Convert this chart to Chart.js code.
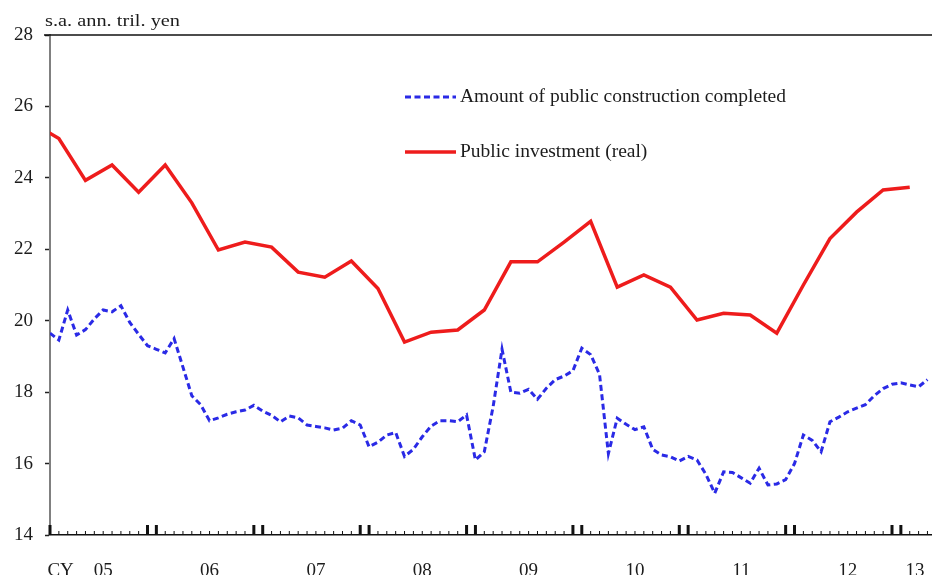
<!DOCTYPE html>
<html>
<head>
<meta charset="utf-8">
<script src="https://cdn.jsdelivr.net/npm/chart.js@4.4.1/dist/chart.umd.min.js"></script>
<style>
  html, body { margin: 0; padding: 0; background: #ffffff; }
  #wrap { width: 932px; height: 575px; }
</style>
</head>
<body>
<div id="wrap"><canvas id="c" width="932" height="575"></canvas></div>
<script>
// ---------------- data ----------------
const unitLabel = 's.a. ann. tril. yen';
const seriesNames = ['Amount of public construction completed', 'Public investment (real)'];

// monthly series, first value = Jan 2005
const monthlyStart = '2005-01';
const constructionCompleted = [
  19.65, 19.46, 20.30, 19.60, 19.75, 20.05, 20.30, 20.25, 20.42, 19.95, 19.62, 19.30,
  19.20, 19.10, 19.50, 18.70, 17.90, 17.65, 17.20, 17.28, 17.38, 17.45, 17.50, 17.63,
  17.47, 17.35, 17.17, 17.33, 17.28, 17.08, 17.04, 17.00, 16.94, 16.99, 17.20, 17.08,
  16.47, 16.60, 16.80, 16.87, 16.20, 16.40, 16.75, 17.05, 17.20, 17.20, 17.17, 17.36,
  16.10, 16.33, 17.60, 19.20, 18.00, 17.97, 18.08, 17.80, 18.11, 18.35, 18.45, 18.60,
  19.23, 19.05, 18.50, 16.28, 17.27, 17.10, 16.95, 17.03, 16.40, 16.24, 16.19, 16.07,
  16.20, 16.10, 15.70, 15.17, 15.77, 15.75, 15.60, 15.45, 15.87, 15.40, 15.43, 15.55,
  16.00, 16.80, 16.65, 16.33, 17.17, 17.30, 17.45, 17.55, 17.65, 17.90, 18.10, 18.22,
  18.26, 18.20, 18.15, 18.35
];

// quarterly series, first value = 2004 Q4 (plotted at the middle month of each quarter)
const quarterlyStart = '2004Q4';
const publicInvestment = [
  25.55,
  25.10, 23.93, 24.36, 23.60,
  24.36, 23.30, 21.98, 22.20,
  22.06, 21.36, 21.22, 21.67,
  20.90, 19.40, 19.68, 19.74,
  20.30, 21.65, 21.65, 22.20,
  22.78, 20.94, 21.28, 20.94,
  20.02, 20.21, 20.16, 19.65,
  21.00, 22.30, 23.04, 23.66,
  23.74
];

const xTickLabels = ['CY', '05', '06', '07', '08', '09', '10', '11', '12', '13'];
const yTicks = [14, 16, 18, 20, 22, 24, 26, 28];

// ---------------- helpers ----------------
function monthIndex(ym) {           // months since Jan 2005
  const [y, m] = ym.split('-').map(Number);
  return (y - 2005) * 12 + (m - 1);
}
function quarterMid(yq) {           // middle month of quarter, months since Jan 2005
  const y = Number(yq.slice(0, 4)), q = Number(yq.slice(5));
  return (y - 2005) * 12 + (q - 1) * 3 + 1;
}
const m0 = monthIndex(monthlyStart);
const blueData = constructionCompleted.map((v, i) => ({ x: m0 + i, y: v }));
const q0 = quarterMid(quarterlyStart);
const redData = publicInvestment.map((v, i) => ({ x: q0 + 3 * i, y: v }));
const lastMonth = m0 + constructionCompleted.length - 1;

// tick label positions (months since Jan 2005)
const labelPos = xTickLabels.map((t, i) => {
  if (i === 0) return 1.2;                    // "CY"
  if (i === xTickLabels.length - 1) return (i - 1) * 12 + 1.6; // partial last year
  return (i - 1) * 12 + 6;
});

const SERIF = '"Liberation Serif", "DejaVu Serif", serif';
const TEXT = '#1c1c1c';
const BLUE = '#2a2ae6';
const RED = '#ee1c1c';

// ---------------- plugins ----------------
const decor = {
  id: 'decor',
  afterDraw(chart) {
    const ctx = chart.ctx, a = chart.chartArea, xs = chart.scales.x;
    ctx.save();
    // top frame line
    ctx.strokeStyle = '#111';
    ctx.lineWidth = 1.5;
    ctx.beginPath();
    ctx.moveTo(44, a.top);
    ctx.lineTo(chart.width, a.top);
    ctx.stroke();
    // monthly tick marks inside the plot
    for (let m = 0; m <= lastMonth; m++) {
      const px = xs.getPixelForValue(m);
      const thick = (m % 12 === 0) || (m % 12 === 11);
      ctx.fillStyle = '#111';
      if (thick) ctx.fillRect(px - 1.5, a.bottom - 10, 3, 10);
      else ctx.fillRect(px - 0.5, a.bottom - 4, 1, 4);
    }
    // unit label
    ctx.fillStyle = TEXT;
    ctx.font = '16px ' + SERIF;
    ctx.textBaseline = 'middle';
    ctx.textAlign = 'left';
    const w = ctx.measureText(unitLabel).width;
    ctx.translate(45, 22);
    ctx.scale(135 / w, 1);
    ctx.fillText(unitLabel, 0, 0);
    ctx.restore();

    // legend
    ctx.save();
    const items = [
      { y: 97, color: BLUE, dash: [6, 3.5], width: 3, text: seriesNames[0] },
      { y: 152, color: RED, dash: [], width: 3.5, text: seriesNames[1] }
    ];
    items.forEach(it => {
      ctx.strokeStyle = it.color;
      ctx.lineWidth = it.width;
      ctx.setLineDash(it.dash);
      ctx.beginPath();
      ctx.moveTo(405, it.y);
      ctx.lineTo(456, it.y);
      ctx.stroke();
      ctx.setLineDash([]);
      ctx.fillStyle = TEXT;
      ctx.font = '19.5px ' + SERIF;
      ctx.textBaseline = 'middle';
      ctx.textAlign = 'left';
      ctx.fillText(it.text, 460, it.y);
    });
    ctx.restore();
  }
};

// ---------------- chart ----------------
new Chart(document.getElementById('c'), {
  type: 'line',
  data: {
    datasets: [
      {
        label: seriesNames[0],
        data: blueData,
        borderColor: BLUE,
        borderWidth: 3,
        borderDash: [6, 3.5],
        pointRadius: 0,
        tension: 0,
        fill: false
      },
      {
        label: seriesNames[1],
        data: redData,
        borderColor: RED,
        borderWidth: 3.5,
        pointRadius: 0,
        tension: 0,
        fill: false
      }
    ]
  },
  options: {
    responsive: false,
    devicePixelRatio: 1,
    animation: false,
    events: [],
    layout: { padding: { top: 35, right: 1, left: 0, bottom: 0 } },
    plugins: { legend: { display: false }, tooltip: { enabled: false }, title: { display: false } },
    scales: {
      x: {
        type: 'linear',
        min: 0,
        max: 99.4,
        grid: { display: false },
        border: { display: true, color: '#111', width: 1.5 },
        afterBuildTicks(scale) { scale.ticks = labelPos.map(v => ({ value: v })); },
        afterFit(scale) {
          scale.height = 40;
          scale.paddingLeft = 0;
          scale.paddingRight = 0;
        },
        ticks: {
          autoSkip: false,
          maxRotation: 0,
          padding: 17,
          color: TEXT,
          font: { family: SERIF, size: 19 },
          callback(value, index) { return xTickLabels[index]; }
        }
      },
      y: {
        min: 14,
        max: 28,
        afterBuildTicks(scale) { scale.ticks = yTicks.map(v => ({ value: v })); },
        afterFit(scale) {
          scale.width = 50;
          scale.paddingTop = 0;
          scale.paddingBottom = 0;
        },
        grid: { drawOnChartArea: false, drawTicks: true, tickLength: 5, tickColor: '#222', tickWidth: 1.5 },
        border: { display: true, color: '#808080', width: 2 },
        ticks: {
          padding: 12,
          color: TEXT,
          font: { family: SERIF, size: 19 }
        }
      }
    }
  },
  plugins: [decor]
});
</script>
</body>
</html>
